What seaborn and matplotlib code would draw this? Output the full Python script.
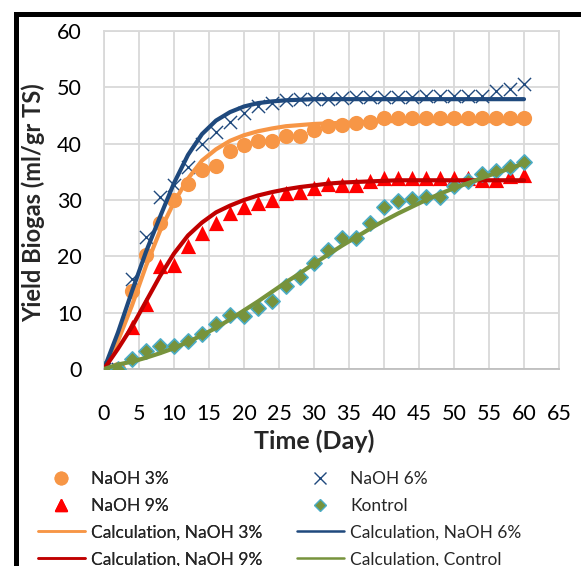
import pandas as pd
import matplotlib
matplotlib.use('Agg')
import matplotlib.pyplot as plt
from matplotlib.lines import Line2D
import seaborn as sns

# --- DATA ---
days = list(range(0, 61, 2))

naoh3 = [0, 0, 13.8, 20.3, 26.0, 30.0, 32.9, 35.3, 36.0, 38.7, 39.8, 40.4, 40.4, 41.4, 41.4, 42.4,
         43.2, 43.3, 43.6, 43.9, 44.6, 44.6, 44.6, 44.6, 44.6, 44.5, 44.5, 44.5, 44.5, 44.5, 44.5]
naoh6 = [0, 0, 15.9, 23.5, 30.6, 32.6, 35.9, 40.0, 42.1, 43.9, 45.4, 46.6, 47.3, 47.8, 47.9, 48.0,
         48.0, 48.1, 48.2, 48.3, 48.3, 48.3, 48.3, 48.4, 48.4, 48.4, 48.4, 48.5, 49.3, 49.7, 50.6]
naoh9 = [0, 0, 7.4, 11.5, 18.3, 18.5, 21.8, 24.1, 25.9, 27.7, 28.8, 29.4, 30.0, 31.2, 31.5, 32.1,
         32.8, 32.7, 32.7, 33.3, 33.9, 33.9, 33.9, 33.9, 33.9, 33.9, 33.9, 33.5, 33.5, 34.2, 34.5]
kontrol = [0, 0, 1.8, 3.2, 4.1, 4.1, 5.0, 6.3, 8.0, 9.5, 9.4, 10.8, 12.1, 14.7, 16.3, 18.8,
           21.1, 23.2, 23.2, 25.9, 28.7, 29.8, 30.1, 30.6, 30.6, 32.4, 33.3, 34.7, 35.2, 35.9, 36.7]

calc3 = [0, 5.0, 11.3, 18.3, 24.5, 29.6, 33.8, 37.0, 39.0, 40.5, 41.5, 42.2, 42.7, 43.1, 43.3, 43.5,
         43.6, 43.7, 43.8, 43.9, 44.0, 44.0, 44.0, 44.0, 44.0, 44.0, 44.0, 44.0, 44.0, 44.0, 44.0]
calc6 = [0, 6.5, 13.8, 20.8, 27.0, 33.0, 38.0, 41.7, 44.1, 45.6, 46.6, 47.2, 47.5, 47.7, 47.8, 47.9,
         47.9, 47.9, 47.9, 47.9, 47.9, 47.9, 47.9, 47.9, 47.9, 47.9, 47.9, 47.9, 47.9, 47.9, 47.9]
calc9 = [0, 3.6, 7.5, 12.0, 16.5, 20.5, 23.7, 26.0, 27.8, 29.0, 30.0, 30.8, 31.4, 31.9, 32.3, 32.6,
         32.9, 33.1, 33.2, 33.3, 33.4, 33.5, 33.5, 33.5, 33.5, 33.5, 33.5, 33.5, 33.5, 33.5, 33.5]
calc_ctrl = [0, 0.8, 1.3, 2.0, 2.8, 3.7, 4.8, 6.0, 7.3, 8.8, 10.4, 12.0, 13.7, 15.4, 17.0, 18.7,
             20.3, 21.9, 23.4, 24.9, 26.3, 27.6, 28.8, 30.0, 31.1, 32.1, 33.0, 33.9, 34.8, 35.6, 36.5]

x_ticks = list(range(0, 66, 5))
y_ticks = list(range(0, 61, 10))

# --- SETTINGS ---
W, H = 581, 566
ORANGE = '#F79646'
BLUE = '#1F497D'
RED = '#FF0000'
DARK_RED = '#C00000'
GREEN = '#77933C'
GREEN_EDGE = '#4BACC6'
GRID = '#D9D9D9'


def fx(px):
    return px / W


def fy(py):
    return 1 - py / H


def main():
    sns.set_theme(style='whitegrid')
    plt.rcParams['font.family'] = ['Lato', 'DejaVu Sans']

    fig = plt.figure(figsize=(W / 100, H / 100), dpi=100)
    ax = fig.add_axes([fx(104), fy(369), fx(559) - fx(104), fy(31) - fy(369)])

    calc = pd.DataFrame({'day': days,
                         'Calculation, NaOH 3%': calc3,
                         'Calculation, NaOH 6%': calc6,
                         'Calculation, NaOH 9%': calc9,
                         'Calculation, Control': calc_ctrl}).melt(id_vars='day', var_name='series',
                                                                   value_name='yield')
    line_colors = {'Calculation, NaOH 3%': ORANGE, 'Calculation, NaOH 6%': BLUE,
                   'Calculation, NaOH 9%': DARK_RED, 'Calculation, Control': GREEN}

    # measured points
    sns.scatterplot(x=days, y=naoh3, marker='o', s=120, color=ORANGE, linewidth=0, ax=ax, zorder=3)
    sns.scatterplot(x=days, y=naoh6, marker='x', s=90, color=BLUE, linewidth=1.0, ax=ax, zorder=3)
    sns.scatterplot(x=days, y=naoh9, marker='^', s=120, color=RED, linewidth=0, ax=ax, zorder=3)
    sns.scatterplot(x=days, y=kontrol, marker='D', s=60, color=GREEN, edgecolor=GREEN_EDGE,
                    linewidth=1.2, ax=ax, zorder=3)

    # model curves
    sns.lineplot(data=calc, x='day', y='yield', hue='series', palette=line_colors,
                 linewidth=3.0, legend=False, ax=ax, zorder=4)

    ax.set_xlim(0, 65)
    ax.set_ylim(0, 60)
    ax.set_xticks(x_ticks)
    ax.set_yticks(y_ticks)
    ax.set_xlabel('')
    ax.set_ylabel('')
    ax.grid(True, color=GRID, linewidth=1.3)
    ax.set_axisbelow(True)
    for side in ['left', 'right', 'top']:
        ax.spines[side].set_color(GRID)
        ax.spines[side].set_linewidth(1.3)
    ax.spines['bottom'].set_color('#BFBFBF')
    ax.spines['bottom'].set_linewidth(1.3)
    ax.tick_params(axis='both', length=0, labelsize=15.5, labelcolor='black')
    ax.tick_params(axis='x', pad=25)
    ax.tick_params(axis='y', pad=16)

    fig.text(fx(33), fy(203), 'Yield Biogas (ml/gr TS)', rotation=90, ha='center', va='center',
             fontsize=17, fontweight='bold')
    fig.text(fx(314), fy(441), 'Time (Day)', ha='center', va='center',
             fontsize=18, fontweight='bold')

    # legend, two columns filled row by row
    col1 = [Line2D([], [], ls='None', marker='o', ms=9, color=ORANGE, mec=ORANGE),
            Line2D([], [], ls='None', marker='^', ms=9, color=RED, mec=RED),
            Line2D([], [], color=ORANGE, lw=1.8),
            Line2D([], [], color=DARK_RED, lw=1.8)]
    lab1 = ['NaOH 3%', 'NaOH 9%', 'Calculation, NaOH 3%', 'Calculation, NaOH 9%']
    col2 = [Line2D([], [], ls='None', marker='x', ms=9, color=BLUE, mew=1.0),
            Line2D([], [], ls='None', marker='D', ms=6.5, color=GREEN, mec=GREEN_EDGE, mew=1.0),
            Line2D([], [], color=BLUE, lw=1.8),
            Line2D([], [], color=GREEN, lw=1.8)]
    lab2 = ['NaOH 6%', 'Kontrol', 'Calculation, NaOH 6%', 'Calculation, Control']
    opts = dict(loc='upper left', frameon=False, fontsize=12.5, borderpad=0, borderaxespad=0,
                handlelength=2.7, handletextpad=0.35, labelspacing=0.62)
    leg1 = fig.legend(col1, lab1, bbox_to_anchor=(fx(38), fy(471)), **opts)
    fig.legend(col2, lab2, bbox_to_anchor=(fx(297), fy(471)), **opts)
    fig.add_artist(leg1)

    # black frame of the original picture (left and top edges)
    fig.add_artist(Line2D([fx(15.8), fx(15.8)], [0, fy(14)], transform=fig.transFigure,
                          color='black', lw=3.6, solid_capstyle='projecting'))
    fig.add_artist(Line2D([fx(15.8), 1.0], [fy(14), fy(14)], transform=fig.transFigure,
                          color='black', lw=3.6, solid_capstyle='projecting'))

    fig.savefig('out.png', dpi=100)


if __name__ == '__main__':
    main()
